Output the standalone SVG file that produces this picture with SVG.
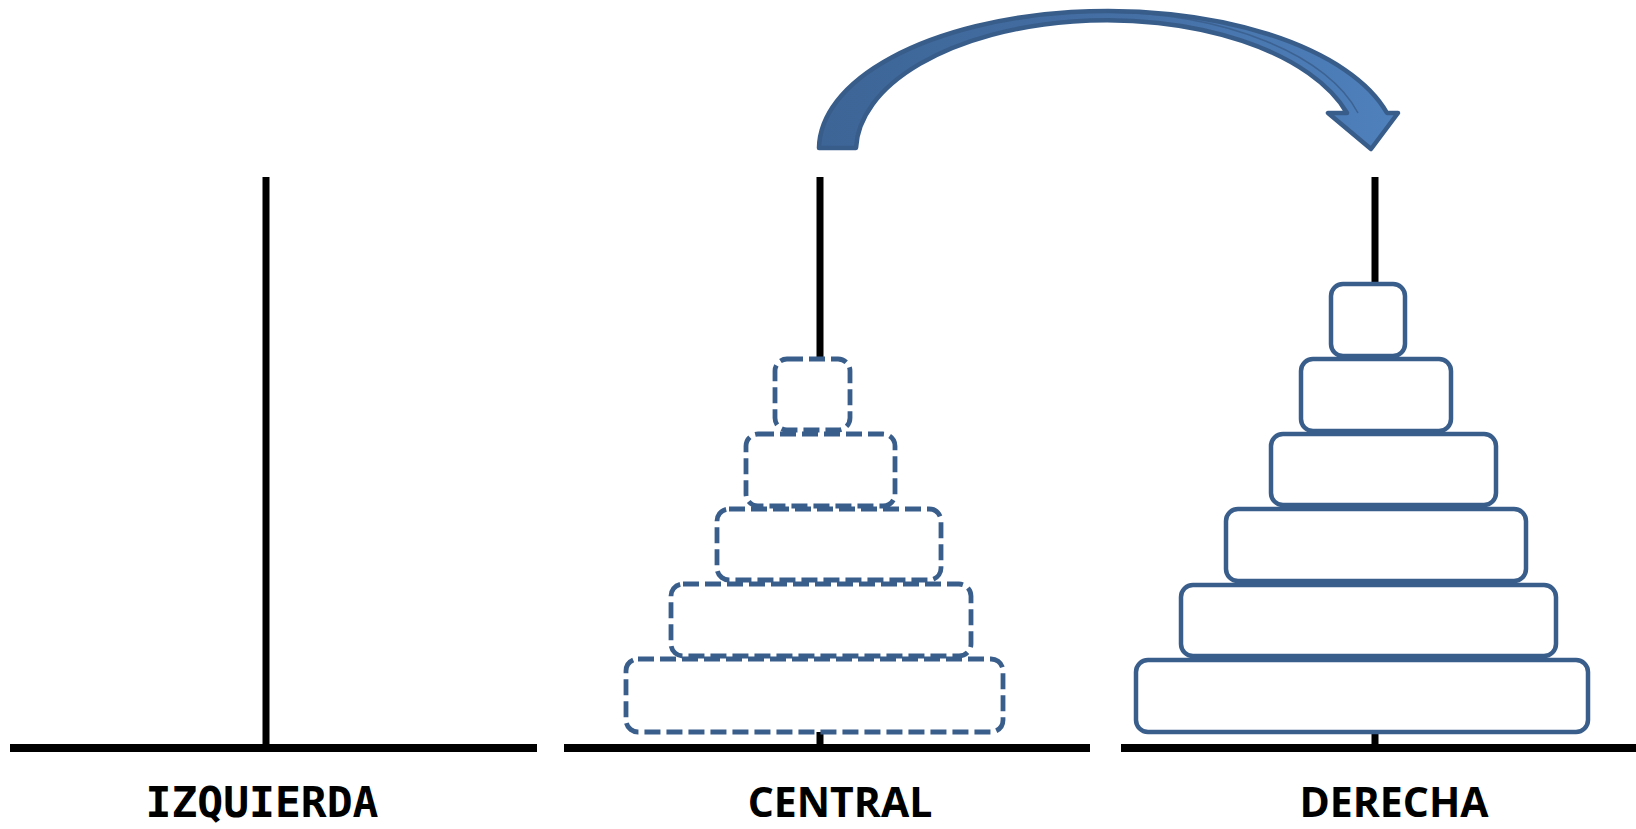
<svg xmlns="http://www.w3.org/2000/svg" width="1636" height="829" viewBox="0 0 1636 829">
  <defs>
    <linearGradient id="arrowFill" gradientUnits="userSpaceOnUse" x1="819" y1="0" x2="1400" y2="0">
      <stop offset="0" stop-color="#3D6596"/>
      <stop offset="0.55" stop-color="#4570A6"/>
      <stop offset="1" stop-color="#4F81BD"/>
    </linearGradient>
  </defs>
  <style>
    .pole { stroke: #000; stroke-width: 7; fill: none; }
    .base { stroke: #000; stroke-width: 8; fill: none; }
    .disk { fill: #fff; stroke: #3A5E8C; stroke-width: 4.5; }
    .ghost { fill: #fff; stroke: #3A5E8C; stroke-width: 4.8; stroke-dasharray: 16 6; }
    .label { font-weight: bold; fill: #000; text-anchor: middle; }
    .mono { font-family: "DejaVu Sans Mono", "Liberation Mono", monospace; font-size: 43px; }
    .sans { font-family: "Open Sans", "Noto Sans", "Liberation Sans", sans-serif; font-size: 41px; }
    .arrow { fill: url(#arrowFill); stroke: #385D8A; stroke-width: 4.5; stroke-linejoin: round; }
  </style>
  <rect width="1636" height="829" fill="#fff"/>

  <g id="peg-izquierda">
    <line class="base" x1="10" y1="748" x2="537" y2="748"/>
    <line class="pole" x1="266" y1="177" x2="266" y2="748"/>
    <text class="label mono" x="262" y="817">IZQUIERDA</text>
  </g>

  <g id="peg-central">
    <line class="base" x1="564" y1="748" x2="1090" y2="748"/>
    <line class="pole" x1="820" y1="177" x2="820" y2="360"/>
    <line class="pole" x1="820" y1="730" x2="820" y2="748"/>
    <rect class="ghost" x="626" y="659" width="377" height="73" rx="12"/>
    <rect class="ghost" x="671" y="584" width="300" height="72" rx="12"/>
    <rect class="ghost" x="717" y="509" width="224" height="71" rx="12"/>
    <rect class="ghost" x="746" y="434" width="149" height="72" rx="12"/>
    <rect class="ghost" x="775" y="359" width="75" height="71" rx="12"/>
    <text class="label sans" x="840" y="817">CENTRAL</text>
  </g>

  <g id="peg-derecha">
    <line class="base" x1="1121" y1="748" x2="1636" y2="748"/>
    <line class="pole" x1="1375" y1="177" x2="1375" y2="285"/>
    <line class="pole" x1="1375" y1="730" x2="1375" y2="748"/>
    <rect class="disk" x="1136" y="660" width="452" height="72" rx="12"/>
    <rect class="disk" x="1181" y="585" width="375" height="71" rx="12"/>
    <rect class="disk" x="1226" y="509" width="300" height="72" rx="12"/>
    <rect class="disk" x="1271" y="434" width="225" height="71" rx="12"/>
    <rect class="disk" x="1301" y="359" width="150" height="72" rx="12"/>
    <rect class="disk" x="1331" y="284" width="74" height="72" rx="12"/>
    <text class="label sans" x="1394" y="817">DERECHA</text>
  </g>

  <g id="connectors">
    <path class="arrow" d="M819,148 A289,138 0 0 1 1387,113 L1398,113 L1371,149 L1328,113 L1347,113 A251,131 0 0 0 856,148 Z"/>
    <path d="M1107,12 A265,136 0 0 1 1358,113" fill="none" stroke="#385D8A" stroke-width="1.5" opacity="0.8"/>
  </g>
</svg>
